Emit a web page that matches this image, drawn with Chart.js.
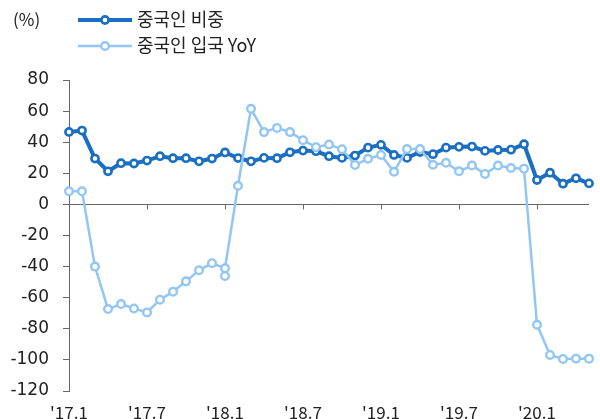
<!DOCTYPE html>
<html>
<head>
<meta charset="utf-8">
<script src="https://cdn.jsdelivr.net/npm/chart.js@4"></script>
<style>
  html, body { margin: 0; padding: 0; background: #fff; }
  #wrap { width: 600px; height: 419px; }
</style>
</head>
<body>
<div id="wrap"><canvas id="myChart"></canvas></div>
<script>
// monthly categories, '17.1 .. '20.5
const months = [
  "'17.1","'17.2","'17.3","'17.4","'17.5","'17.6","'17.7","'17.8","'17.9","'17.10","'17.11","'17.12",
  "'18.1","'18.2","'18.3","'18.4","'18.5","'18.6","'18.7","'18.8","'18.9","'18.10","'18.11","'18.12",
  "'19.1","'19.2","'19.3","'19.4","'19.5","'19.6","'19.7","'19.8","'19.9","'19.10","'19.11","'19.12",
  "'20.1","'20.2","'20.3","'20.4","'20.5"
];
const shareLabel = '중국인 비중';
const yoyLabel = '중국인 입국 YoY';
const share = [
  46.6, 47.5, 29.5, 21.3, 26.5, 26.3, 28.2, 31.0, 29.7, 29.7, 27.7, 29.5,
  33.4, 29.8, 27.7, 29.9, 29.7, 33.5, 34.6, 34.2, 31.0, 29.9, 31.4, 36.5,
  38.3, 31.8, 29.9, 33.7, 32.3, 36.5, 37.0, 37.2, 34.4, 35.0, 35.2, 38.7,
  15.7, 20.4, 13.3, 16.8, 13.5
];
const yoy = [
  8.4, 8.4, -40.0, -67.3, -64.1, -66.9, -69.5, -61.3, -56.1, -49.5, -42.4, -37.8,
  -41.1, 12.0, 61.5, 46.5, 49.2, 46.5, 41.3, 36.8, 38.5, 35.5, 25.4, 29.3,
  31.8, 21.0, 35.6, 35.6, 25.5, 26.8, 21.3, 25.0, 19.6, 25.0, 23.4, 23.0,
  -77.4, -96.8, -99.4, -99.2, -99.2
];
// stray second marker that sits under '18.1 in the source chart
const yoyExtra = months.map(m => m === "'18.1" ? -46.0 : null);
const yTicks = [80, 60, 40, 20, 0, -20, -40, -60, -80, -100, -120];

const dark = '#1b6fc3';
const light = '#92c6f4';
const axisCol = '#666';
const font = "'Noto Sans CJK KR', 'Noto Sans', sans-serif";
const numFont = "'DejaVu Sans', sans-serif";

// x ticks on the zero line + top legend
const extras = {
  id: 'extras',
  afterDraw(chart) {
    const ctx = chart.ctx;
    const xs = chart.scales.x, ys = chart.scales.y;
    const y0 = ys.getPixelForValue(0);
    ctx.save();
    ctx.strokeStyle = axisCol;
    ctx.lineWidth = 1;
    months.forEach((m, i) => {
      const mon = m.split('.')[1];
      if (mon === '1' || mon === '7') {
        const x = Math.round(xs.getPixelForValue(i)) + 0.5;
        ctx.beginPath();
        ctx.moveTo(x, y0);
        ctx.lineTo(x, y0 + 5);
        ctx.stroke();
      }
    });

    ctx.fillStyle = '#222';
    ctx.textBaseline = 'middle';
    ctx.textAlign = 'left';
    ctx.font = '17px ' + font;
    ctx.fillText('(%)', 13, 20);
    ctx.font = '18px ' + font;
    chart.data.datasets.slice(0, 2).forEach((ds, i) => {
      const y = 20 + i * 26;
      ctx.strokeStyle = ds.borderColor;
      ctx.lineWidth = ds.borderWidth;
      ctx.beginPath();
      ctx.moveTo(78, y);
      ctx.lineTo(132, y);
      ctx.stroke();
      ctx.beginPath();
      ctx.arc(105, y, ds.pointRadius, 0, Math.PI * 2);
      ctx.fillStyle = '#fff';
      ctx.fill();
      ctx.lineWidth = ds.pointBorderWidth;
      ctx.stroke();
      ctx.fillStyle = '#222';
      ctx.fillText(ds.label, 137, y - 1);
    });
    ctx.restore();
  }
};

new Chart('myChart', {
  type: 'line',
  data: {
    labels: months,
    datasets: [
      {
        label: shareLabel, data: share, order: 1,
        borderColor: dark, borderWidth: 4,
        pointRadius: 3.6, pointBorderWidth: 2.6,
        pointBackgroundColor: '#fff', pointBorderColor: dark,
        clip: false
      },
      {
        label: yoyLabel, data: yoy, order: 0,
        borderColor: light, borderWidth: 2.5,
        pointRadius: 3.8, pointBorderWidth: 2.4,
        pointBackgroundColor: '#fff', pointBorderColor: light,
        clip: false
      },
      {
        label: '', data: yoyExtra, order: 0, showLine: false,
        borderColor: light, borderWidth: 2.5,
        pointRadius: 3.8, pointBorderWidth: 2.4,
        pointBackgroundColor: '#fff', pointBorderColor: light,
        clip: false
      }
    ]
  },
  options: {
    responsive: true,
    maintainAspectRatio: false,
    animation: false,
    layout: { padding: { top: 80, right: 8, left: 0, bottom: 0 } },
    plugins: { legend: { display: false }, tooltip: { enabled: false } },
    scales: {
      x: {
        offset: false,
        grid: { display: false, drawTicks: false },
        border: { display: false },
        afterFit: s => { s.height = 28; },
        ticks: {
          autoSkip: false, maxRotation: 0, padding: 11,
          color: '#222', font: { family: font, size: 17 },
          callback: function(v, i) {
            const m = months[i];
            const mon = m.split('.')[1];
            return (mon === '1' || mon === '7') ? m : '';
          }
        }
      },
      y: {
        min: -120, max: 80,
        afterBuildTicks: s => { s.ticks = yTicks.map(v => ({ value: v })); },
        afterFit: s => { s.width = 69; },
        border: { display: true, color: axisCol, width: 1 },
        grid: {
          color: c => (c.tick && c.tick.value === 0) ? axisCol : 'rgba(0,0,0,0)',
          tickColor: axisCol, tickLength: 6, lineWidth: 1
        },
        ticks: { padding: 14, color: '#222', font: { family: numFont, size: 17 } }
      }
    }
  },
  plugins: [extras]
});
</script>
</body>
</html>
